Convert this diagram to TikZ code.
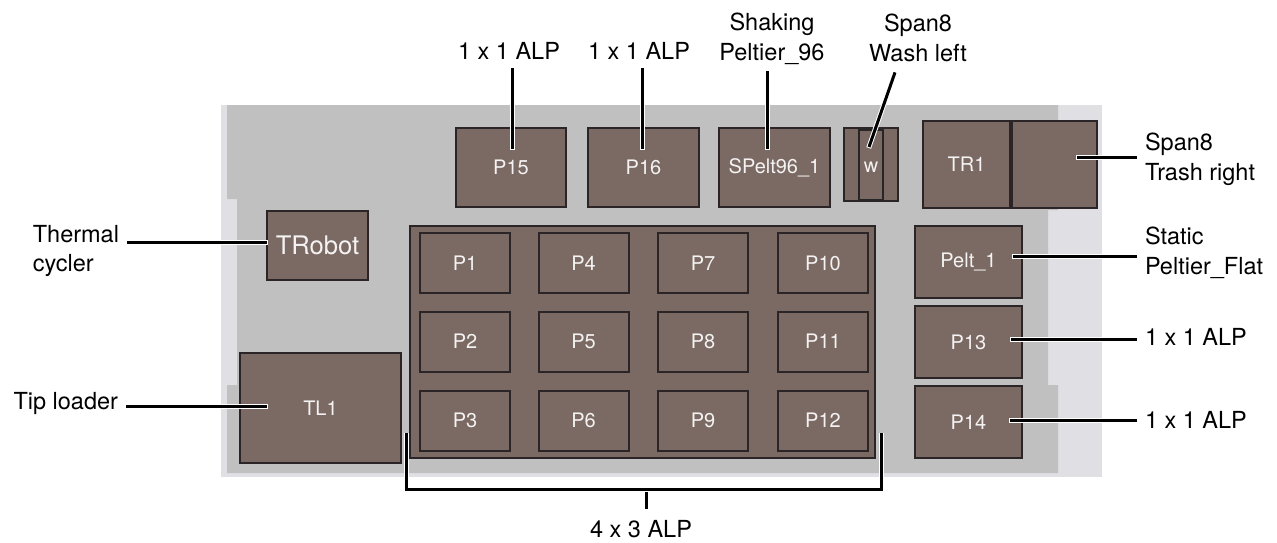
\documentclass[tikz,border=0pt]{standalone}
\usepackage{fontspec}
\setmainfont{TeX Gyre Heros}
\usetikzlibrary{calc}
\definecolor{boxfill}{HTML}{7B6A63}
\definecolor{boxline}{HTML}{2B2527}
\definecolor{deck}{HTML}{C0C0C0}
\definecolor{frame}{HTML}{E0DFE4}
\definecolor{boxtext}{HTML}{F4F2F2}
\begin{document}
\begin{tikzpicture}[x=1pt,y=-1pt,
  slot/.style={draw=boxline, line width=2pt, fill=boxfill, text=boxtext, inner sep=0pt, outer sep=0pt, font=\fontsize{20}{24}\selectfont},
  lab/.style={inner sep=0pt, outer sep=0pt, font=\fontsize{23.5}{29.5}\selectfont, text=black},
  conn/.style={line width=3pt, draw=black, preaction={draw=white, line width=5pt, shorten >=-1pt}}]
\useasboundingbox (0,0) rectangle (1277,542);
% deck background
\fill[frame] (221,105) rectangle (1102,477);
\fill[deck] (227,105) -- (1058,105) -- (1058,210) -- (1048,210) -- (1048,385) -- (1058,385) -- (1058,473) -- (227,473) -- (227,385) -- (237,385) -- (237,199) -- (227,199) -- cycle;
% top row
\node[slot, minimum width=110pt, minimum height=79pt] (p15) at (511,167.5) {P15};
\node[slot, minimum width=111pt, minimum height=79pt] (p16) at (643.5,167.5) {P16};
\node[slot, minimum width=111pt, minimum height=79pt] (spelt) at (774.5,167.5) {SPelt96\_1};
\node[slot, minimum width=54pt, minimum height=73pt, line width=1.5pt] (wout) at (871,164.5) {};
\node[slot, minimum width=24pt, minimum height=70pt, line width=2.5pt, draw=black!85] (win) at (871,165) {};
\node[text=boxtext, inner sep=0pt, font=\fontsize{20}{24}\selectfont] (wlab) at (871,167) {w};
\node[slot, minimum width=87pt, minimum height=87pt] (tr1) at (966.5,164.5) {TR1};
\node[slot, minimum width=85pt, minimum height=87pt] (trr) at (1054.5,164.5) {};
% left side
\node[slot, minimum width=101pt, minimum height=69pt, font=\fontsize{25.6}{30}\selectfont] (trobot) at (317.5,245.5) {TRobot};
\node[slot, minimum width=161pt, minimum height=110pt] (tl1) at (320.5,408) {TL1};
% right side
\node[slot, minimum width=107pt, minimum height=72pt] (pelt) at (968.5,262) {Pelt\_1};
\node[slot, minimum width=107pt, minimum height=72pt] (p13) at (968.5,342) {P13};
\node[slot, minimum width=107pt, minimum height=72pt] (p14) at (968.5,422) {P14};
% 4 x 3 plate
\node[slot, minimum width=465pt, minimum height=232pt] (plate) at (642.5,342) {};
\node[slot, minimum width=90pt, minimum height=60pt] (p1) at (465,263) {P1};
\node[slot, minimum width=90pt, minimum height=60pt] (p2) at (465,341.5) {P2};
\node[slot, minimum width=90pt, minimum height=60pt] (p3) at (465,420.5) {P3};
\node[slot, minimum width=90pt, minimum height=60pt] (p4) at (583.5,263) {P4};
\node[slot, minimum width=90pt, minimum height=60pt] (p5) at (583.5,341.5) {P5};
\node[slot, minimum width=90pt, minimum height=60pt] (p6) at (583.5,420.5) {P6};
\node[slot, minimum width=90pt, minimum height=60pt] (p7) at (703,263) {P7};
\node[slot, minimum width=90pt, minimum height=60pt] (p8) at (703,341.5) {P8};
\node[slot, minimum width=90pt, minimum height=60pt] (p9) at (703,420.5) {P9};
\node[slot, minimum width=90pt, minimum height=60pt] (p10) at (823,263) {P10};
\node[slot, minimum width=90pt, minimum height=60pt] (p11) at (823,341.5) {P11};
\node[slot, minimum width=90pt, minimum height=60pt] (p12) at (823,420.5) {P12};
% labels
\node[lab, anchor=north] (l15) at (509,42) {1 x 1 ALP};
\node[lab, anchor=north] (l16) at (639,42) {1 x 1 ALP};
\node[lab, anchor=north, align=center] (lsp) at (772,13) {Shaking\\Peltier\_96};
\node[lab, anchor=north, align=center] (lwash) at (918,14) {Span8\\Wash left};
\node[lab, anchor=north west, align=left] (ltrash) at (1145,133) {Span8\\Trash right};
\node[lab, anchor=north west, align=left] (lstatic) at (1145,227) {Static\\Peltier\_Flat};
\node[lab, anchor=north west] (l13) at (1145,328) {1 x 1 ALP};
\node[lab, anchor=north west] (l14) at (1145,411) {1 x 1 ALP};
\node[lab, anchor=north east, align=left] (lthermal) at (119,225) {Thermal\\cycler};
\node[lab, anchor=north east] (ltip) at (118,392) {Tip loader};
\node[lab, anchor=north] (l43) at (641,520) {4 x 3 ALP};
% connector end points
\coordinate (c15) at (512,149);
\coordinate (c16) at (642,149);
\coordinate (csp) at (767,149);
\coordinate (cw) at (869,147);
\coordinate (ctrash) at (1077,157);
\coordinate (cpelt) at (1013,256);
\coordinate (c13) at (1011,339);
\coordinate (c14) at (1010,420);
\coordinate (crobot) at (267,242);
\coordinate (ctl) at (267,406);
\coordinate (bl) at (406,433);
\coordinate (br) at (881,433);
\coordinate (bm) at (646,489);
% connectors
\draw[conn] ($(l15.south -| c15)+(0,9)$) -- (c15);
\draw[conn] ($(l16.south -| c16)+(0,9)$) -- (c16);
\draw[conn] ($(lsp.south -| csp)+(0,7)$) -- (csp);
\draw[conn] ($(lwash.south)+(-23,11)$) -- (cw);
\draw[conn] ($(ltrash.west |- ctrash)+(-8,0)$) -- (ctrash);
\draw[conn] ($(lstatic.west |- cpelt)+(-8,0)$) -- (cpelt);
\draw[conn] ($(l13.west |- c13)+(-8,0)$) -- (c13);
\draw[conn] ($(l14.west |- c14)+(-8,0)$) -- (c14);
\draw[conn] ($(lthermal.east |- crobot)+(8,0)$) -- (crobot);
\draw[conn] ($(ltip.east |- ctl)+(8,0)$) -- (ctl);
\draw[conn] ($(l43.north -| bm)+(0,-11)$) -- (bm);
\draw[line width=3pt, draw=black, preaction={draw=white, line width=5pt}] (bl) -- (bl |- bm) -- (br |- bm) -- (br);
\end{tikzpicture}
\end{document}
